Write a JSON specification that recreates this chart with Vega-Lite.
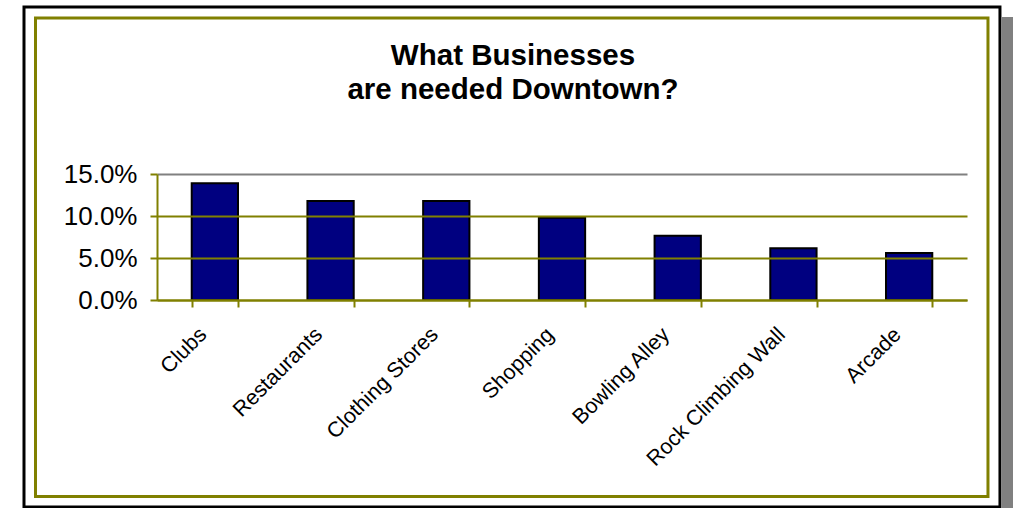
{
  "$schema": "https://vega.github.io/schema/vega-lite/v6.json",
  "autosize": {"type": "none"},
  "width": 810,
  "height": 126,
  "padding": {"left": 157, "top": 174, "right": 46, "bottom": 208},
  "background": "white",
  "config": {
    "font": "Liberation Sans",
    "view": {"stroke": "#808080", "strokeWidth": 2}
  },
  "title": {
    "text": ["What Businesses", "are needed Downtown?"],
    "font": "Liberation Sans",
    "fontSize": 29.5,
    "fontWeight": "bold",
    "color": "black",
    "anchor": "middle",
    "frame": "group",
    "dx": -49,
    "baseline": "alphabetic",
    "lineHeight": 34,
    "offset": -122.8
  },
  "data": {
    "values": [
      {"business": "Clubs", "share": 0.139},
      {"business": "Restaurants", "share": 0.118},
      {"business": "Clothing Stores", "share": 0.118},
      {"business": "Shopping", "share": 0.098},
      {"business": "Bowling Alley", "share": 0.0765},
      {"business": "Rock Climbing Wall", "share": 0.0615},
      {"business": "Arcade", "share": 0.056}
    ]
  },
  "resolve": {"scale": {"x": "independent"}},
  "layer": [
    {
      "data": {"values": [{}]},
      "mark": {"type": "rect", "fill": "#808080", "clip": false},
      "encoding": {
        "x": {"datum": 1.0432, "type": "quantitative", "scale": {"domain": [0, 1]}, "axis": null},
        "x2": {"datum": 1.06},
        "y": {"datum": 0.3369, "type": "quantitative"},
        "y2": {"datum": -0.26}
      }
    },
    {
      "data": {"values": [{}]},
      "mark": {"type": "rect", "fill": "white", "stroke": "black", "strokeWidth": 3, "clip": false},
      "encoding": {
        "x": {"datum": -0.1642, "type": "quantitative", "scale": {"domain": [0, 1]}, "axis": null},
        "x2": {"datum": 1.0407},
        "y": {"datum": 0.3488, "type": "quantitative"},
        "y2": {"datum": -0.2464}
      }
    },
    {
      "data": {"values": [{}]},
      "mark": {"type": "rect", "fill": "white", "stroke": "#808000", "strokeWidth": 3, "clip": false},
      "encoding": {
        "x": {"datum": -0.15, "type": "quantitative", "scale": {"domain": [0, 1]}, "axis": null},
        "x2": {"datum": 1.0259},
        "y": {"datum": 0.3357, "type": "quantitative"},
        "y2": {"datum": -0.2339}
      }
    },
    {
      "mark": {"type": "bar", "fill": "#000080", "stroke": "black", "strokeWidth": 2},
      "encoding": {
        "x": {
          "field": "business",
          "type": "nominal",
          "sort": null,
          "title": null,
          "scale": {"paddingInner": 0.6, "paddingOuter": 0.3},
          "axis": {
            "tickBand": "extent",
            "domainColor": "#808000",
            "domainWidth": 2,
            "tickColor": "#808000",
            "tickWidth": 2,
            "tickSize": 7,
            "labelAngle": -45,
            "labelAlign": "right",
            "labelBaseline": "bottom",
            "labelFontSize": 21.5,
            "labelColor": "black",
            "labelPadding": 32,
            "labelOffset": -4,
            "labelLimit": 0,
            "labelFont": "Liberation Sans",
            "zindex": 1
          }
        },
        "y": {
          "field": "share",
          "type": "quantitative",
          "title": null,
          "scale": {"domain": [0, 0.15], "nice": false},
          "axis": {
            "values": [0, 0.05, 0.1, 0.15],
            "format": ".1%",
            "domainColor": "#808000",
            "domainWidth": 2,
            "tickColor": "#808000",
            "tickWidth": 2,
            "tickSize": 7,
            "grid": true,
            "gridColor": {"condition": {"test": "datum.value >= 0.15", "value": "#808080"}, "value": "#808000"},
            "gridWidth": 2,
            "labelFontSize": 26,
            "labelColor": "black",
            "labelPadding": 13,
            "labelFont": "Liberation Sans",
            "zindex": 1
          }
        }
      }
    }
  ]
}
